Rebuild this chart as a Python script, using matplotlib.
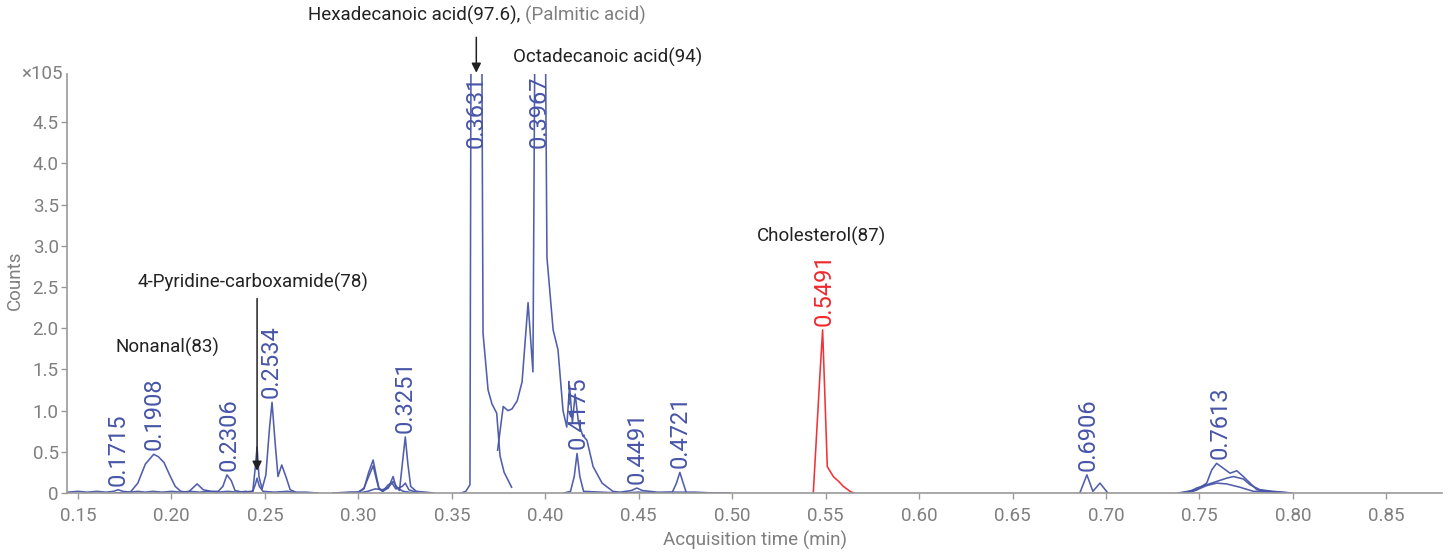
import matplotlib
matplotlib.use("Agg")
import matplotlib.pyplot as plt

plt.rcParams['font.family'] = ['Roboto', 'DejaVu Sans']

# ---------------- data ----------------
# baseline trace (early region)
t_base = [0.1445, 0.150, 0.155, 0.160, 0.165, 0.1690, 0.1715, 0.174, 0.178, 0.182, 0.186,
          0.190, 0.195, 0.200, 0.205, 0.210, 0.215, 0.220, 0.225, 0.230, 0.235, 0.240]
v_base = [0.01, 0.02, 0.01, 0.02, 0.01, 0.02, 0.04, 0.02, 0.01, 0.02, 0.01,
          0.02, 0.01, 0.02, 0.01, 0.02, 0.01, 0.02, 0.01, 0.02, 0.01, 0.02]

# Nonanal / 0.2306 trace
t_non = [0.170, 0.178, 0.182, 0.186, 0.1905, 0.193, 0.196, 0.199, 0.202, 0.205, 0.209,
         0.2137, 0.217, 0.221, 0.225, 0.2275, 0.2297, 0.232, 0.234, 0.238, 0.2435, 0.2448,
         0.2458, 0.2470, 0.249, 0.255, 0.262, 0.268]
v_non = [0.0, 0.01, 0.12, 0.35, 0.47, 0.44, 0.37, 0.22, 0.08, 0.02, 0.01,
         0.11, 0.04, 0.02, 0.02, 0.08, 0.22, 0.15, 0.03, 0.01, 0.02, 0.10,
         0.18, 0.08, 0.02, 0.01, 0.02, 0.0]

# 4-Pyridine-carboxamide / 0.2534 trace
t_pyr = [0.238, 0.2435, 0.2448, 0.2458, 0.2468, 0.2485, 0.2505, 0.2525, 0.2538, 0.2555,
         0.2570, 0.2590, 0.2615, 0.2635, 0.2665, 0.272, 0.278]
v_pyr = [0.01, 0.02, 0.30, 0.56, 0.20, 0.05, 0.22, 0.80, 1.10, 0.60,
         0.20, 0.34, 0.18, 0.04, 0.01, 0.01, 0.0]

# cluster around 0.30 - 0.33
t_c1 = [0.2864, 0.295, 0.300, 0.303, 0.3055, 0.3079, 0.3095, 0.311, 0.313, 0.316,
        0.3186, 0.320, 0.322, 0.3235, 0.3251, 0.3265, 0.328, 0.331, 0.336, 0.340]
v_c1 = [0.0, 0.01, 0.01, 0.05, 0.25, 0.40, 0.22, 0.06, 0.02, 0.06,
        0.20, 0.08, 0.03, 0.35, 0.68, 0.35, 0.08, 0.02, 0.01, 0.0]
t_c2 = [0.290, 0.300, 0.303, 0.3055, 0.3079, 0.3095, 0.311, 0.313, 0.316, 0.318,
        0.320, 0.3235, 0.3251, 0.327, 0.332]
v_c2 = [0.0, 0.01, 0.06, 0.20, 0.33, 0.18, 0.05, 0.02, 0.10, 0.12,
        0.05, 0.08, 0.12, 0.04, 0.0]
t_c3 = [0.300, 0.305, 0.309, 0.313, 0.316, 0.3186, 0.321, 0.324, 0.330]
v_c3 = [0.0, 0.02, 0.05, 0.04, 0.07, 0.14, 0.06, 0.02, 0.0]

# Hexadecanoic acid trace
t_hex = [0.355, 0.3575, 0.3597, 0.3603, 0.3631, 0.3660, 0.3667, 0.3694, 0.3715,
         0.3740, 0.3758, 0.378, 0.382]
v_hex = [0.0, 0.02, 0.10, 5.8, 6.2, 5.8, 1.94, 1.25, 1.08, 0.97, 0.45, 0.25, 0.07]

# Octadecanoic acid trace
t_oct = [0.3745, 0.3775, 0.3800, 0.3822, 0.3850, 0.3876, 0.3908, 0.3934, 0.3945, 0.3967,
         0.4000, 0.4009, 0.4042, 0.4068, 0.4095, 0.4115, 0.4130, 0.4145, 0.4160, 0.4178,
         0.4200, 0.4223, 0.4256, 0.4304, 0.4362, 0.440, 0.446, 0.449, 0.452, 0.460,
         0.470, 0.480, 0.490, 0.499]
v_oct = [0.52, 1.05, 1.00, 1.02, 1.12, 1.35, 2.31, 1.47, 5.8, 6.5,
         5.8, 2.86, 1.98, 1.74, 1.00, 0.80, 1.30, 0.85, 1.20, 0.85,
         0.70, 0.64, 0.32, 0.12, 0.02, 0.01, 0.03, 0.06, 0.03, 0.01,
         0.01, 0.01, 0.0, 0.0]

# 0.4175 / 0.4721 trace
t_p47 = [0.410, 0.4135, 0.4155, 0.4170, 0.4185, 0.4205, 0.430, 0.440, 0.450, 0.460,
         0.468, 0.4702, 0.4720, 0.4738, 0.4755, 0.485, 0.497]
v_p47 = [0.0, 0.02, 0.20, 0.48, 0.20, 0.02, 0.01, 0.0, 0.01, 0.0,
         0.01, 0.12, 0.25, 0.12, 0.0, 0.0, 0.0]

# Cholesterol trace (highlighted)
t_chol = [0.5434, 0.5470, 0.5484, 0.5509, 0.5541, 0.5570, 0.5595, 0.5631, 0.5650]
v_chol = [0.0, 1.45, 1.98, 0.32, 0.20, 0.14, 0.08, 0.02, 0.0]

# 0.6906 trace
t_p69 = [0.686, 0.6898, 0.693, 0.6968, 0.701]
v_p69 = [0.0, 0.22, 0.02, 0.12, 0.0]

# 0.7613 cluster (three traces)
t_g1 = [0.7387, 0.7485, 0.7539, 0.7566, 0.7592, 0.7628, 0.7664, 0.7700, 0.7735,
        0.7771, 0.7807, 0.7860, 0.7913, 0.7994]
v_g1 = [0.0, 0.04, 0.12, 0.28, 0.36, 0.30, 0.24, 0.27, 0.20, 0.12, 0.04, 0.02, 0.01, 0.0]
t_g2 = [0.7432, 0.7485, 0.7539, 0.7592, 0.7646, 0.7682, 0.7735, 0.7771, 0.7824,
        0.7895, 0.7994]
v_g2 = [0.0, 0.06, 0.10, 0.14, 0.18, 0.20, 0.17, 0.10, 0.04, 0.02, 0.0]
t_g3 = [0.7400, 0.7467, 0.7539, 0.7592, 0.7646, 0.7717, 0.7789, 0.7895, 0.7985]
v_g3 = [0.0, 0.02, 0.09, 0.12, 0.11, 0.07, 0.02, 0.01, 0.0]

blue_traces = [(t_base, v_base), (t_non, v_non), (t_pyr, v_pyr), (t_c1, v_c1),
               (t_c2, v_c2), (t_c3, v_c3), (t_hex, v_hex), (t_oct, v_oct),
               (t_p47, v_p47), (t_p69, v_p69), (t_g1, v_g1), (t_g2, v_g2), (t_g3, v_g3)]

peak_labels = ["0.1715", "0.1908", "0.2306", "0.2534", "0.3251", "0.3631", "0.3967",
               "0.4175", "0.4491", "0.4721", "0.6906", "0.7613"]
peak_heights = [0.03, 0.47, 0.22, 1.10, 0.68, 6.2, 6.5, 0.48, 0.06, 0.25, 0.22, 0.36]
chol_label = "0.5491"
chol_height = 1.98

x_ticks = [0.15, 0.20, 0.25, 0.30, 0.35, 0.40, 0.45, 0.50, 0.55, 0.60, 0.65, 0.70, 0.75, 0.80, 0.85]
y_ticks = [0, 0.5, 1.0, 1.5, 2.0, 2.5, 3.0, 3.5, 4.0, 4.5]
y_ticklabels = ["0", "0.5", "1.0", "1.5", "2.0", "2.5", "3.0", "3.5", "4.0", "4.5"]

# ---------------- plot ----------------
BLUE = "#4755a8"
RED = "#f0282d"
GRAY = "#7f7f7f"
W, H = 1449, 555

fig = plt.figure(figsize=(W / 100, H / 100), dpi=100)
ax = fig.add_axes([67 / W, 1 - 493 / H, (1442 - 67) / W, (493 - 74) / H])
XMIN, XMAX = 0.1441, 0.8798
YMAX = 5.085
ax.set_xlim(XMIN, XMAX)
ax.set_ylim(0, YMAX)

for t, v in blue_traces:
    ax.plot(t, v, color=BLUE, lw=1.15, alpha=0.95, solid_joinstyle='round')
ax.plot(t_chol, v_chol, color=RED, lw=1.15, alpha=0.95)

lab_fs = 17
for lab, h in zip(peak_labels, peak_heights):
    x = float(lab)
    if h > YMAX:
        ax.text(x, YMAX - 0.02, lab, rotation=90, ha='center', va='top',
                color=BLUE, fontsize=lab_fs)
    else:
        ax.annotate(lab, xy=(x, h), xytext=(0, 3), textcoords='offset points',
                    rotation=90, ha='center', va='bottom', color=BLUE, fontsize=lab_fs)
ax.annotate(chol_label, xy=(float(chol_label), chol_height), xytext=(0, 3),
            textcoords='offset points', rotation=90, ha='center', va='bottom',
            color=RED, fontsize=lab_fs)

# compound annotations
afs = 13.5
ax.text(0.1976, 1.77, "Nonanal(83)", ha='center', va='center', fontsize=afs, color='#222222')
ax.text(0.2437, 2.55, "4-Pyridine-carboxamide(78)", ha='center', va='center',
        fontsize=afs, color='#222222')
ax.annotate('', xy=(0.2458, 0.27), xytext=(0.2458, 2.36),
            arrowprops=dict(arrowstyle='-|>', color='#222222', lw=1.1,
                            mutation_scale=14, shrinkA=0, shrinkB=0))
ax.text(0.548, 3.12, "Cholesterol(87)", ha='center', va='center', fontsize=afs, color='#222222')
ax.text(0.3826, 5.29, "Octadecanoic acid(94)", ha='left', va='center', fontsize=afs,
        color='#222222', clip_on=False)
t1 = ax.text(0.2731, 5.80, "Hexadecanoic acid(97.6),", ha='left', va='center',
             fontsize=afs, color='#222222', clip_on=False)
fig.canvas.draw()
bb = t1.get_window_extent()
xg = ax.transData.inverted().transform((bb.x1 + 5, 0))[0]
ax.text(xg, 5.80, "(Palmitic acid)", ha='left', va='center', fontsize=afs,
        color=GRAY, clip_on=False)
ax.annotate('', xy=(0.3631, 5.10), xytext=(0.3631, 5.53),
            arrowprops=dict(arrowstyle='-|>', color='#222222', lw=1.1,
                            mutation_scale=14, shrinkA=0, shrinkB=0),
            annotation_clip=False)

# axes styling
for s in ['top', 'right']:
    ax.spines[s].set_visible(False)
for s in ['left', 'bottom']:
    ax.spines[s].set_color('#9a9a9a')
    ax.spines[s].set_linewidth(1.2)
ax.set_xticks(x_ticks)
ax.set_xticklabels([f"{v:.2f}" for v in x_ticks])
ax.set_yticks(y_ticks)
ax.set_yticklabels(y_ticklabels)
ax.tick_params(axis='both', colors='#9a9a9a', labelcolor=GRAY, labelsize=13.5,
               length=4, width=1, direction='out')
ax.tick_params(axis='x', pad=6)
ax.tick_params(axis='y', pad=2)

ax.text(-0.003, 1.0, "×105", transform=ax.transAxes, ha='right', va='center',
        fontsize=13.5, color=GRAY)
fig.text(15 / W, 1 - 280 / H, "Counts", rotation=90, ha='center', va='center',
         fontsize=13.5, color=GRAY)
fig.text(755 / W, 1 - 540 / H, "Acquisition time (min)", ha='center', va='center',
         fontsize=13.5, color=GRAY)

fig.savefig("out.png", dpi=100)
